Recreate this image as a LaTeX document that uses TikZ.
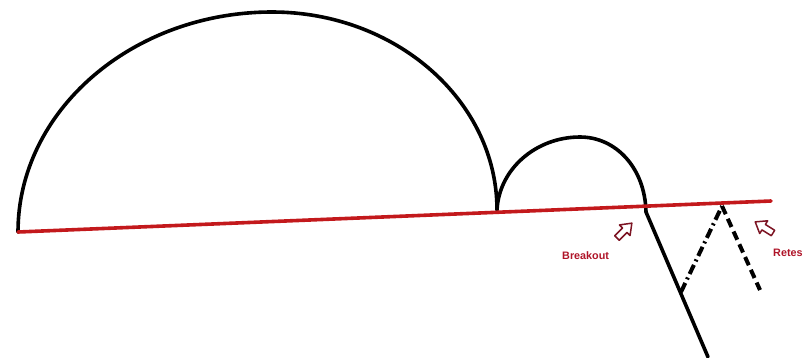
\documentclass[tikz,border=0pt]{standalone}
\usepackage{fontspec}
\setmainfont{Liberation Sans}
\definecolor{redline}{RGB}{195,25,28}
\definecolor{arrowred}{RGB}{125,20,35}
\definecolor{textred}{RGB}{175,20,40}
\tikzset{
  curve/.style={line width=3.6pt, black, line cap=round, line join=round},
  level/.style={line width=3.6pt, redline, line cap=round},
  dashdotline/.style={line width=4pt, black, dash pattern=on 10pt off 4pt on 2pt off 4pt},
  dashline/.style={line width=4pt, black, dash pattern=on 9pt off 5pt},
  hollowarrow/.style={line width=1.5pt, arrowred, line join=round, fill=white},
  lbl/.style={font=\bfseries\fontsize{10.8}{12}\selectfont, text=textred, inner sep=0pt}
}
\begin{document}
\begin{tikzpicture}[x=1pt,y=-1pt]
\useasboundingbox (0,0) rectangle (805,357);
% key points
\coordinate (A) at (18,232);
\coordinate (B) at (497,210);
\coordinate (T1) at (272,12);
\coordinate (T2) at (580,137);
\coordinate (C) at (646,212);
\coordinate (D) at (708,357);
\coordinate (R2) at (771,201);
\coordinate (E) at (681,292);
\coordinate (P) at (722,206);
\coordinate (F) at (760,290);
% big arch
\draw[curve] (A) .. controls (18,111) and (132,12) .. (T1)
  .. controls (396,12) and (497,101) .. (B);
% small arch and breakdown line
\draw[curve] (B) .. controls (499,169) and (536,137) .. (T2)
  .. controls (616,137) and (645,168) .. (C) -- (D);
% red level line
\draw[level] (A) -- (R2);
% retest legs
\draw[dashdotline] (E) -- (P);
\draw[dashline] (P) -- (F);
% hollow arrows
\begin{scope}[shift={(617,238)}, rotate=45]
  \draw[hollowarrow] (0,-3.2) -- (11,-3.2) -- (11,-7.5) -- (21,0) -- (11,7.5) -- (11,3.2) -- (0,3.2) -- cycle;
\end{scope}
\begin{scope}[shift={(773,233)}, rotate=148]
  \draw[hollowarrow] (0,-3.2) -- (11,-3.2) -- (11,-7.5) -- (21,0) -- (11,7.5) -- (11,3.2) -- (0,3.2) -- cycle;
\end{scope}
% labels
\node[lbl, anchor=west] (brk) at (562,256) {Breakout};
\node[lbl, anchor=west] (ret) at (773,253) {Retes};
\end{tikzpicture}
\end{document}
